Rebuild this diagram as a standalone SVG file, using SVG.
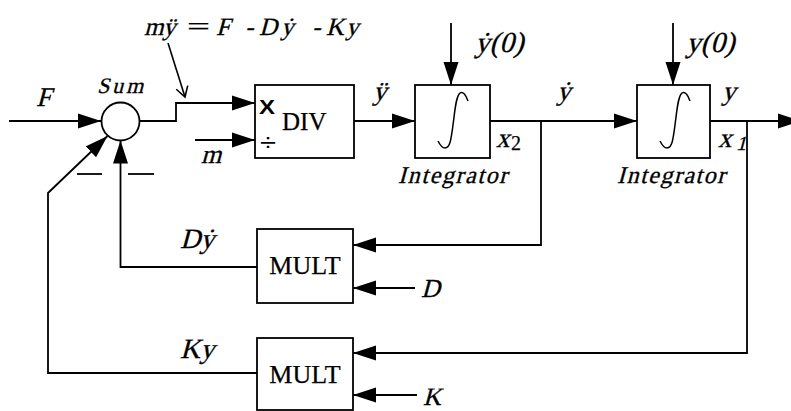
<svg xmlns="http://www.w3.org/2000/svg" width="791" height="411" viewBox="0 0 791 411">
<style>
.ln{fill:none;stroke:#000;stroke-width:1.8}
.bx{fill:#fff;stroke:#000;stroke-width:1.8}
.ar{fill:none;stroke:#000;stroke-width:1.8;marker-end:url(#ah)}
.it{font-family:"Liberation Serif","Times New Roman",serif;font-style:normal;fill:#000;stroke:#000;stroke-width:0.3}
.rm{font-family:"Liberation Serif","Times New Roman",serif;fill:#000;stroke:#000;stroke-width:0.25}
.sn{font-family:"Liberation Sans",Arial,sans-serif;fill:#000}
</style>
<defs>
<marker id="ah" markerUnits="userSpaceOnUse" markerWidth="24" markerHeight="16" refX="23" refY="8" orient="auto">
<path d="M0,0.5 L23,8 L0,15.5 Z" fill="#000"/>
</marker>
<marker id="oa" markerUnits="userSpaceOnUse" markerWidth="14" markerHeight="16" refX="11" refY="7" orient="auto">
<path d="M1,1 L11,7 L1,13" fill="none" stroke="#000" stroke-width="1.6"/>
</marker>
</defs>
<rect width="791" height="411" fill="#fff"/>

<g id="connectors">
<path class="ar" d="M9,121 H101"/>
<path class="ar" d="M140,121 H176 V103 H255"/>
<path class="ar" d="M195,140 H255"/>
<path class="ar" d="M354,121 H415"/>
<path class="ar" d="M451,23 V85"/>
<path class="ar" d="M490,121 H637"/>
<path class="ar" d="M541,121 V245 H353"/>
<path class="ar" d="M415,288 H353"/>
<path class="ar" d="M257,267 H120.5 V140.5"/>
<path class="ar" d="M673,23 V85"/>
<path class="ar" d="M710,121 H801"/>
<path class="ar" d="M747,121 V353 H353"/>
<path class="ar" d="M417,395 H353"/>
<path class="ar" d="M257,373 H48 V193 L107.5,136"/>
<path class="ln" d="M168,43 L185,97" style="stroke-width:1.6;marker-end:url(#oa)"/>
<line class="ln" x1="77" y1="174" x2="102" y2="174"/>
<line class="ln" x1="128" y1="174" x2="154" y2="174"/>
</g>

<g id="equation">
<text class="it" transform="translate(0,35) skewX(-15)" font-size="25"><tspan x="144">m</tspan><tspan x="163">ÿ</tspan><tspan x="216">F</tspan><tspan x="245">-</tspan><tspan x="259">D</tspan><tspan x="281">ẏ</tspan><tspan x="312">-</tspan><tspan x="326">K</tspan><tspan x="346">y</tspan></text>
<text class="rm" x="187" y="35" font-size="25" textLength="23" lengthAdjust="spacingAndGlyphs">=</text>
</g>

<g id="input-F"><text class="it" transform="translate(36,106) skewX(-15)" font-size="27">F</text></g>

<g id="sum">
<circle cx="120.5" cy="121.5" r="19" class="bx"/>
<text class="it" transform="translate(97,93) skewX(-15)" font-size="22" textLength="46">Sum</text>
</g>

<g id="input-m"><text class="it" transform="translate(201,163) skewX(-15)" font-size="26">m</text></g>

<g id="div">
<rect class="bx" x="255" y="85" width="99" height="73"/>
<text class="sn" x="259" y="114" font-size="20" font-weight="bold" textLength="16" lengthAdjust="spacingAndGlyphs">X</text>
<text class="sn" x="260" y="151" font-size="24" textLength="16" lengthAdjust="spacingAndGlyphs">÷</text>
<text class="rm" x="282" y="130" font-size="25">DIV</text>
</g>

<g id="label-yddot"><text class="it" transform="translate(373,100) skewX(-15)" font-size="27">ÿ</text></g>

<g id="integrator1">
<rect class="bx" x="415" y="85" width="75" height="73"/>
<path class="ln" d="M468,101 C466,95 463,91 460,93 C456,96 455,110 453,125 C451,140 450,148 445,148 C442,148 440,145 438,141" style="stroke-width:1.5"/>
<text class="it" transform="translate(398,183) skewX(-15)" font-size="24" textLength="109">Integrator</text>
<text class="it" transform="translate(475,52) skewX(-15)" font-size="29">ẏ(0)</text>
<text class="it" transform="translate(496,147) skewX(-15)" font-size="27">x</text>
<text class="rm" x="511" y="150" font-size="20">2</text>
</g>

<g id="label-ydot"><text class="it" transform="translate(557,100) skewX(-15)" font-size="27">ẏ</text></g>

<g id="integrator2">
<rect class="bx" x="637" y="85" width="73" height="73"/>
<path class="ln" d="M690,101 C688,95 685,91 682,93 C678,96 677,110 675,125 C673,140 672,148 667,148 C664,148 662,145 660,141" style="stroke-width:1.5"/>
<text class="it" transform="translate(617,183) skewX(-15)" font-size="24" textLength="108">Integrator</text>
<text class="it" transform="translate(686,52) skewX(-15)" font-size="29">y(0)</text>
<text class="it" transform="translate(722,100) skewX(-15)" font-size="27">y</text>
<text class="it" transform="translate(718,147) skewX(-15)" font-size="27">x</text>
<text class="it" transform="translate(736,150) skewX(-15)" font-size="20">1</text>
</g>

<g id="mult1">
<rect class="bx" x="257" y="229" width="96" height="74"/>
<text class="rm" x="305" y="274" font-size="26" text-anchor="middle">MULT</text>
<text class="it" transform="translate(180,248) skewX(-15)" font-size="28">Dẏ</text>
<text class="it" transform="translate(421,297) skewX(-15)" font-size="26">D</text>
</g>

<g id="mult2">
<rect class="bx" x="257" y="338" width="96" height="72"/>
<text class="rm" x="305" y="383" font-size="26" text-anchor="middle">MULT</text>
<text class="it" transform="translate(180,358) skewX(-15)" font-size="28">Ky</text>
<text class="it" transform="translate(423,405) skewX(-15)" font-size="25">K</text>
</g>
</svg>
